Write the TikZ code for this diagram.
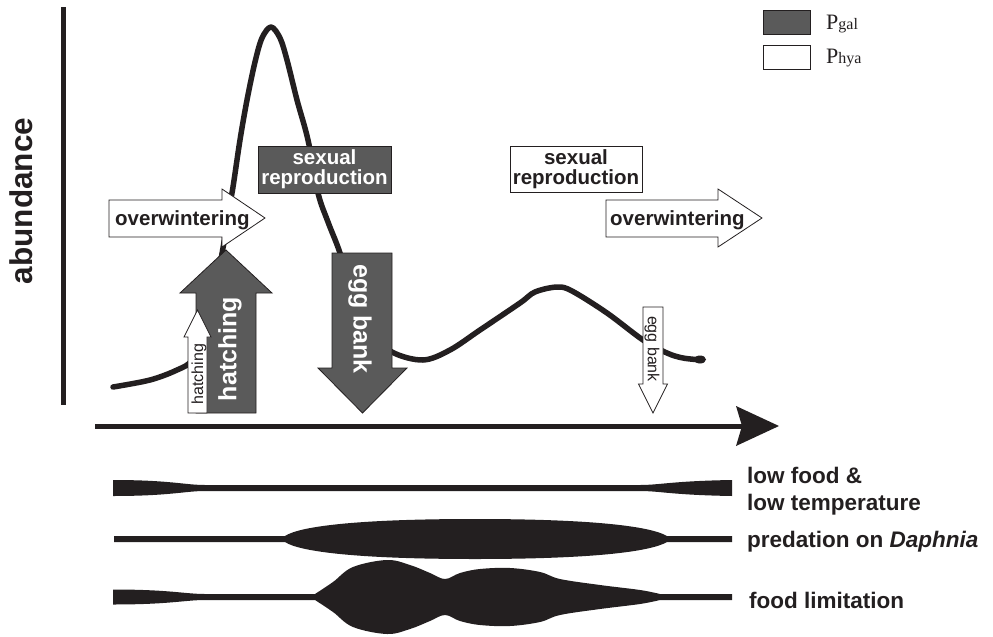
\documentclass[tikz,border=0pt]{standalone}
\usepackage{fontspec}
\setmainfont{Liberation Sans}
\newfontfamily\legendfont{Liberation Serif}
\definecolor{ink}{RGB}{35,31,32}
\definecolor{dgray}{RGB}{90,90,90}
\begin{document}
\begin{tikzpicture}[x=1pt,y=-1pt,
  darkshape/.style={fill=dgray,draw=ink,line width=0.8pt,line join=miter},
  whiteshape/.style={fill=white,draw=ink,line width=0.8pt,line join=miter},
  boldlbl/.style={inner sep=0pt,text=ink,font=\bfseries\fontsize{20.5}{20}\selectfont},
  whitelbl/.style={inner sep=0pt,text=white,font=\bfseries\fontsize{20.5}{20}\selectfont},
  biglbl/.style={inner sep=0pt,text=white,font=\bfseries\fontsize{25}{25}\selectfont},
  smalllbl/.style={inner sep=0pt,text=ink,font=\fontsize{16}{16}\selectfont},
  sidelbl/.style={inner sep=0pt,text=ink,anchor=base west,font=\bfseries\fontsize{22.5}{22.5}\selectfont},
  band/.style={fill=ink}]
\useasboundingbox (0,0) rectangle (993,637);

% abundance curve
\draw[ink, line width=5.5pt, line cap=round, line join=round] plot[smooth, tension=0.55] coordinates {(113,387) (150,380) (177,370) (192,360) (205,330) (215,290) (223,248) (228,215) (233,187) (240,140) (247,100) (255,62) (262,38) (271,27) (280,38) (287,60) (297,100) (308,140) (318,193) (328,222) (340,253) (352,295) (368,330) (392,352) (423,360) (450,350) (480,330) (520,303) (535,292) (557,287) (572,291) (607,313) (643,340) (667,353) (683,358) (702,360)};
\fill[ink] (700,359.5) ellipse (6pt and 4pt);

% axes
\draw[ink, line width=4.5pt] (63.5,7) -- (63.5,405);
\draw[ink, line width=5pt] (95,426) -- (742,426);
\fill[ink] (736,406) -- (779,426) -- (736,446) -- (742,426) -- cycle;
\node[rotate=90, inner sep=0pt, text=ink, font=\bfseries\fontsize{31.5}{31.5}\selectfont] (abund) at (21,201) {abundance};

% hatching (dark)
\draw[darkshape] (196,413) -- (256,413) -- (256,293) -- (272,293) -- (226,250) -- (180,293) -- (196,293) -- cycle;
\node[biglbl, rotate=90] (hatchbig) at (230,349) {hatching};
% hatching (white)
\draw[whiteshape] (188,413) -- (207,413) -- (207,337) -- (211,337) -- (197.5,310) -- (184,337) -- (188,337) -- cycle;
\node[smalllbl, rotate=90] (hatchsmall) at (199,374) {hatching};

% overwintering arrows
\draw[whiteshape] (109,200) -- (222,200) -- (222,189) -- (265,218) -- (222,247) -- (222,237) -- (109,237) -- cycle;
\node[boldlbl, anchor=base west] (ow1) at (115,225) {overwintering};
\draw[whiteshape] (606,200) -- (718,200) -- (718,189) -- (762,218) -- (718,247) -- (718,237) -- (606,237) -- cycle;
\node[boldlbl, anchor=base west] (ow2) at (610,225) {overwintering};

% sexual reproduction boxes
\node[darkshape, whitelbl, minimum width=133pt, minimum height=47pt, align=center] (sr1) at (324.5,169.5) {sexual\\reproduction};
\node[whiteshape, boldlbl, minimum width=132pt, minimum height=46pt, align=center] (sr2) at (576,169) {sexual\\reproduction};

% egg bank (dark)
\draw[darkshape] (332,253) -- (392,253) -- (392,368) -- (407,368) -- (362.5,413) -- (318,368) -- (332,368) -- cycle;
\node[biglbl, rotate=-90] (eggbig) at (360,319) {egg bank};
% egg bank (white)
\draw[whiteshape] (643,307) -- (663,307) -- (663,384) -- (667.5,384) -- (653,413) -- (638.5,384) -- (643,384) -- cycle;
\node[smalllbl, rotate=-90] (eggsmall) at (652,349) {egg bank};

% legend
\draw[darkshape] (763,10) rectangle (810,34);
\draw[whiteshape] (763,45) rectangle (810,69);
\node[inner sep=0pt, anchor=base west, text=ink] (lgal) at (826,29) {\legendfont\fontsize{22}{22}\selectfont P\fontsize{16}{16}\selectfont gal};
\node[inner sep=0pt, anchor=base west, text=ink] (lhya) at (826,63) {\legendfont\fontsize{22}{22}\selectfont P\fontsize{16}{16}\selectfont hya};

% band 1: low food & low temperature
\fill[band] (113,480) .. controls (170,480) and (185,485) .. (205,485) -- (640,485) .. controls (660,485) and (672,481) .. (732,480) -- (732,496) .. controls (672,495) and (660,491) .. (640,491) -- (205,491) .. controls (185,491) and (170,496) .. (113,496) -- cycle;
% band 2: predation
\fill[band] (114,536) -- (285,536) .. controls (300,526) and (360,519) .. (475,519) .. controls (590,519) and (650,526) .. (667,536) -- (732,536) -- (732,542) -- (667,542) .. controls (650,552) and (590,559) .. (475,559) .. controls (360,559) and (300,552) .. (285,542) -- (114,542) -- cycle;
% band 3: food limitation
\fill[band] (113,589.5) .. controls (170,589.5) and (185,594) .. (205,594) -- (315,594)
  -- plot[smooth, tension=0.6] coordinates {(315,594) (333,582) (353,567) (387,560) (410,565) (430,573) (445,579) (460,573) (480,569) (510,568) (540,572) (560,579) (600,585) (640,590) (660,594)}
  -- (732,594) -- (732,600) -- (660,600)
  -- plot[smooth, tension=0.6] coordinates {(660,600) (640,604) (600,609) (560,615) (540,622) (510,626) (480,625) (460,621) (445,615) (430,621) (410,629) (387,634) (353,627) (333,612) (315,600)}
  -- (205,600) .. controls (185,600) and (170,604.5) .. (113,604.5) -- cycle;

% band labels
\node[sidelbl] (t1) at (747,483) {low food \&};
\node[sidelbl] (t2) at (747,510) {low temperature};
\node[sidelbl] (t3) at (747,547) {predation on \textit{Daphnia}};
\node[sidelbl] (t4) at (749,608) {food limitation};
\end{tikzpicture}
\end{document}
